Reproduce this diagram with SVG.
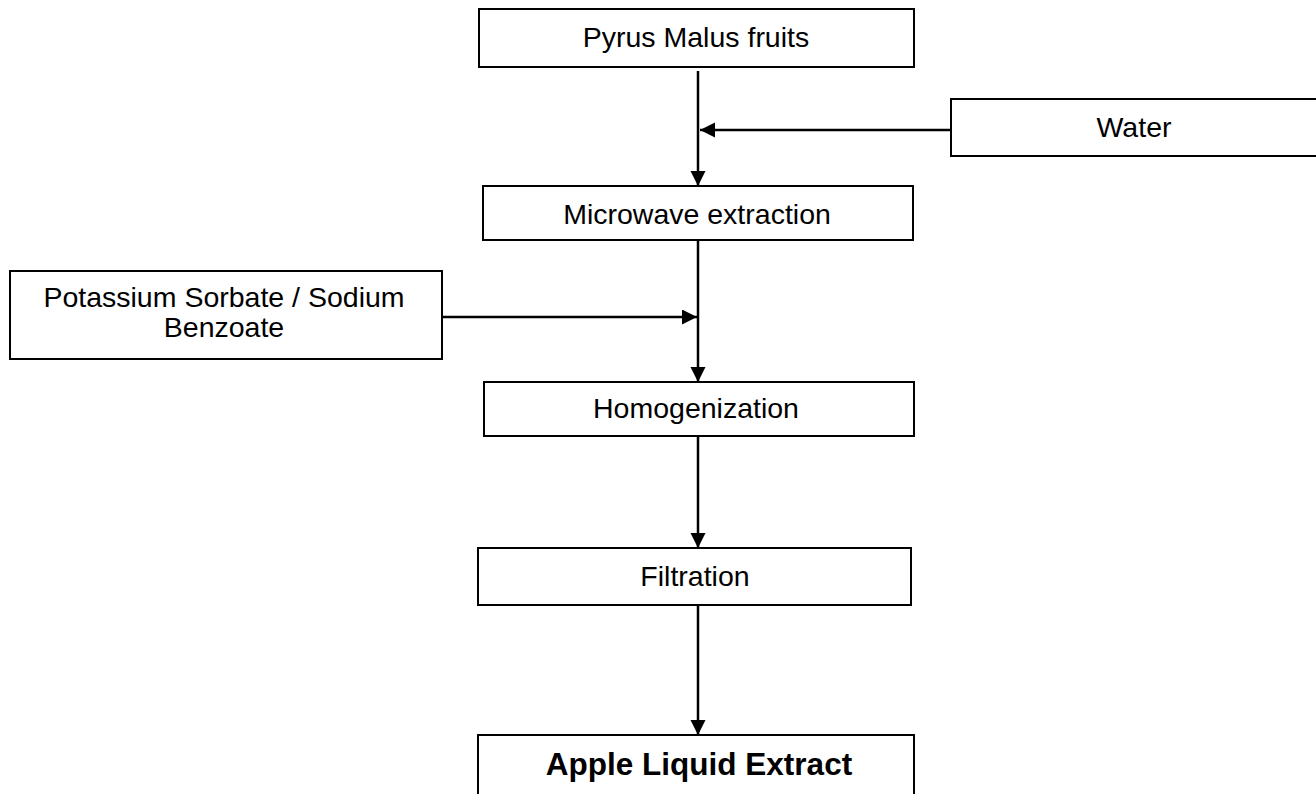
<svg xmlns="http://www.w3.org/2000/svg" width="1316" height="794" viewBox="0 0 1316 794">
<style>
.box{fill:#fff;stroke:#000;stroke-width:2}
.t{font-family:"Liberation Sans",Arial,sans-serif;font-size:28.5px;fill:#000;text-anchor:middle}
.b{font-weight:bold;font-size:31.5px}
.c{stroke:#000;stroke-width:2.5;fill:none;marker-end:url(#ah)}
</style>
<defs>
<marker id="ah" markerUnits="userSpaceOnUse" markerWidth="16" markerHeight="16" refX="15" refY="7.5" orient="auto" viewBox="0 0 16 16">
<path d="M0,0 L15,7.5 L0,15 z" fill="#000"/>
</marker>
</defs>
<rect width="1316" height="794" fill="#fff"/>
<g id="connectors">
<line class="c" x1="698" y1="71" x2="698" y2="186"/>
<line class="c" x1="951" y1="130" x2="700" y2="130"/>
<line class="c" x1="698" y1="240" x2="698" y2="382"/>
<line class="c" x1="442" y1="317" x2="697" y2="317"/>
<line class="c" x1="698" y1="436" x2="698" y2="548"/>
<line class="c" x1="698" y1="605" x2="698" y2="735"/>
</g>
<g id="pyrus"><rect class="box" x="479" y="9" width="435" height="58"/><text class="t" x="696" y="47">Pyrus Malus fruits</text></g>
<g id="water"><rect class="box" x="951" y="99" width="370" height="57"/><text class="t" x="1134" y="137">Water</text></g>
<g id="microwave"><rect class="box" x="483" y="186" width="430" height="54"/><text class="t" x="697" y="224">Microwave extraction</text></g>
<g id="preservative"><rect class="box" x="10" y="271" width="432" height="88"/><text class="t" x="224" y="307">Potassium Sorbate / Sodium</text><text class="t" x="224" y="337">Benzoate</text></g>
<g id="homogenization"><rect class="box" x="484" y="382" width="430" height="54"/><text class="t" x="696" y="418">Homogenization</text></g>
<g id="filtration"><rect class="box" x="478" y="548" width="433" height="57"/><text class="t" x="695" y="586">Filtration</text></g>
<g id="apple"><rect class="box" x="478" y="735" width="436" height="70"/><text class="t b" x="699" y="775">Apple Liquid Extract</text></g>
</svg>
